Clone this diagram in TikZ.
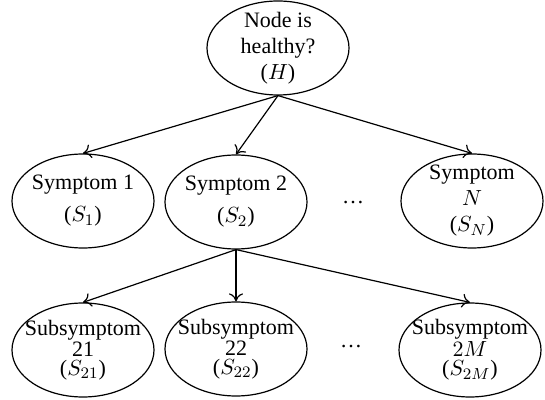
\documentclass[tikz,border=0pt]{standalone}
\usepackage{fontspec}
\setmainfont{Liberation Serif}
\usetikzlibrary{shapes.geometric,arrows.meta}

\begin{document}
\begin{tikzpicture}[x=.5pt, y=-.5pt, font=\fontsize{11}{13}\selectfont,
		symptom/.style={ellipse, draw, line width=.6pt, minimum width=71pt, minimum height=47pt,
			inner xsep=-4pt, inner ysep=-2pt, align=center},
		subsymptom/.style={symptom, font=\fontsize{11}{9.5}\selectfont},
		link/.style={->, line width=.6pt, >={To[length=4pt,width=7pt]}}]
		\useasboundingbox (0,0) rectangle (545,400);
		%root
		\node[symptom] (H) at (278,48) {Node is\\healthy?\\($H$)};
		%symptoms
		\node[symptom] (S1) at (83,201) {Symptom 1\\[3pt]($S_1$)};
		\node[symptom] (S2) at (236,202) {Symptom 2\\[3pt]($S_2$)};
		\node (dots1) at (353,203) {\dots};
		\node[symptom] (SN) at (472,201) {Symptom\\$N$\\($S_N$)};
		%subsymptoms
		\node[subsymptom] (S21) at (83,350) {Subsymptom\\21\\($S_{21}$)};
		\node[subsymptom] (S22) at (236,349) {Subsymptom\\22\\($S_{22}$)};
		\node (dots2) at (351,347) {\dots};
		\node[subsymptom] (S2M) at (470,350) {Subsymptom\\$2M$\\($S_{2M}$)};
		%links
		\foreach \s in {S1,S2,SN}
		\draw[link] (H.south) -- (\s.north);
		\foreach \s in {S21,S22,S2M}
		\draw[link] (S2.south) -- (\s.north);
\end{tikzpicture}
\end{document}
